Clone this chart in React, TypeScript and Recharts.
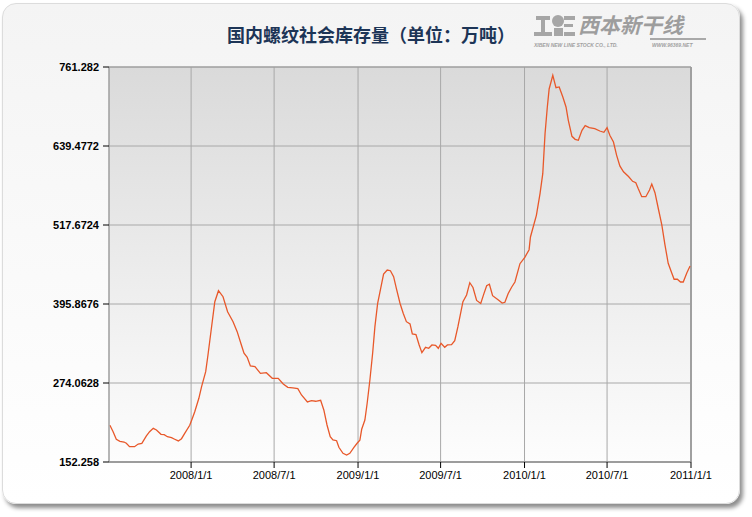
import React from 'react'
import { LineChart, Line, XAxis, YAxis, CartesianGrid, ReferenceLine } from 'recharts'

const dates = [
  '2007/7/7', '2007/7/14', '2007/7/21', '2007/7/29', '2007/8/7', '2007/8/12', '2007/8/19', '2007/8/30',
  '2007/9/7', '2007/9/15', '2007/9/25', '2007/10/2', '2007/10/10', '2007/10/17', '2007/10/27', '2007/11/3',
  '2007/11/10', '2007/11/19', '2007/11/26', '2007/12/4', '2007/12/11', '2007/12/18', '2007/12/29',
  '2008/1/3', '2008/1/9', '2008/1/18', '2008/1/24', '2008/2/2', '2008/2/7', '2008/2/14', '2008/2/22',
  '2008/3/1', '2008/3/11', '2008/3/21', '2008/4/2', '2008/4/11', '2008/4/19', '2008/4/26', '2008/5/3',
  '2008/5/10', '2008/5/20', '2008/6/1', '2008/6/14', '2008/6/27', '2008/7/10', '2008/7/21', '2008/7/31',
  '2008/8/11', '2008/8/22', '2008/8/30', '2008/9/12', '2008/9/21', '2008/9/30', '2008/10/11', '2008/10/18',
  '2008/10/25', '2008/11/1', '2008/11/7', '2008/11/15', '2008/11/20', '2008/11/29', '2008/12/7', '2008/12/14',
  '2008/12/23', '2008/12/30', '2009/1/5', '2009/1/9', '2009/1/16', '2009/1/21', '2009/1/27', '2009/2/2',
  '2009/2/7', '2009/2/13', '2009/2/19', '2009/2/26', '2009/3/6', '2009/3/13', '2009/3/20', '2009/3/26',
  '2009/4/3', '2009/4/10', '2009/4/17', '2009/4/25', '2009/4/30', '2009/5/8', '2009/5/15', '2009/5/21',
  '2009/5/29', '2009/6/5', '2009/6/12', '2009/6/20', '2009/6/26', '2009/7/2', '2009/7/10', '2009/7/16',
  '2009/7/25', '2009/8/1', '2009/8/8', '2009/8/19', '2009/8/27', '2009/9/3', '2009/9/10', '2009/9/18',
  '2009/9/27', '2009/10/4', '2009/10/10', '2009/10/16', '2009/10/23', '2009/11/4', '2009/11/13', '2009/11/19',
  '2009/11/26', '2009/12/4', '2009/12/11', '2009/12/22', '2010/1/2', '2010/1/11', '2010/1/14', '2010/1/20',
  '2010/1/27', '2010/2/4', '2010/2/10', '2010/2/15', '2010/2/20', '2010/2/24', '2010/3/4', '2010/3/11',
  '2010/3/18', '2010/3/26', '2010/4/2', '2010/4/7', '2010/4/15', '2010/4/22', '2010/4/29', '2010/5/7',
  '2010/5/14', '2010/5/23', '2010/6/4', '2010/6/15', '2010/6/24', '2010/7/1', '2010/7/7', '2010/7/15',
  '2010/7/22', '2010/7/29', '2010/8/6', '2010/8/17', '2010/8/26', '2010/9/2', '2010/9/7', '2010/9/15',
  '2010/9/24', '2010/10/2', '2010/10/7', '2010/10/14', '2010/10/22', '2010/10/29', '2010/11/5', '2010/11/12',
  '2010/11/20', '2010/11/25', '2010/12/2', '2010/12/9', '2010/12/15', '2010/12/23', '2010/12/30',
]

const stock = [
  208.8, 199.0, 187.3, 184.2, 183.1, 181.1, 175.9, 175.9,
  180.0, 181.1, 192.4, 199.0, 204.2, 201.6, 195.0, 194.4,
  191.3, 189.7, 187.3, 184.7, 188.2, 196.5, 208.8,
  218.1, 229.8, 250.5, 268.4, 291.5, 317.2, 355.8, 399.4,
  416.4, 407.1, 384.0, 368.6, 353.2, 335.3, 319.9, 313.7,
  300.3, 299.2, 289.0, 290.0, 281.3, 281.3, 272.5, 267.4,
  266.4, 265.3, 255.6, 244.8, 246.8, 245.9, 247.4, 232.5,
  209.3, 191.3, 186.2, 185.1, 174.9, 165.7, 163.1, 165.7,
  174.9, 181.1, 185.7, 202.7, 217.0, 242.8, 278.7, 319.9,
  360.9, 397.0, 417.5, 442.1, 448.3, 447.2, 438.0, 420.1,
  397.0, 381.5, 368.6, 365.1, 349.6, 348.6, 332.7, 320.8,
  329.1, 327.6, 332.7, 332.2, 327.6, 335.3, 329.1, 332.7,
  333.1, 339.3, 360.9, 399.4, 409.8, 428.7, 421.3, 401.3,
  396.6, 411.8, 424.1, 426.3, 408.7, 402.5, 397.4, 398.5,
  411.8, 422.1, 429.8, 458.0, 468.3, 479.6, 499.2, 514.6,
  532.6, 566.0, 596.8, 658.5, 699.6, 727.4, 748.5, 729.4,
  730.5, 715.0, 699.6, 679.1, 654.4, 649.8, 648.3, 663.7,
  670.8, 667.7, 666.2, 662.6, 660.6, 667.7, 656.0, 645.6,
  625.1, 608.7, 599.7, 592.4, 585.0, 582.9, 574.2, 561.3,
  561.3, 571.6, 580.9, 567.5, 540.8, 517.7, 486.8, 458.6,
  443.2, 434.0, 434.0, 429.8, 429.8, 444.1, 454.5,
]

const xTickDates = ['2008/1/1', '2008/7/1', '2009/1/1', '2009/7/1', '2010/1/1', '2010/7/1', '2011/1/1']
const yTicks = [152.258, 274.0628, 395.8676, 517.6724, 639.4772, 761.282]
const xStart = '2007/7/5'
const xEnd = '2011/1/1'

function toTs(s: string) {
  const [y, m, d] = s.split('/').map(Number)
  return Date.UTC(y, m - 1, d)
}

function formatDate(v: number) {
  const d = new Date(v)
  return `${d.getUTCFullYear()}/${d.getUTCMonth() + 1}/${d.getUTCDate()}`
}

const data = dates.map((d, i) => ({ t: toTs(d), v: stock[i] }))

const FONT = '"Liberation Sans", Arial, sans-serif'

function Logo() {
  return (
    <svg width={180} height={44} style={{ position: 'absolute', left: 532, top: 8 }}>
      <g fill="#a6a6a6">
        <rect x={4} y={8} width={14} height={4} />
        <rect x={9} y={8} width={4} height={18} />
        <rect x={2} y={24} width={18} height={4} />
        <ellipse cx={26} cy={13} rx={6} ry={6} />
        <rect x={22} y={20} width={9} height={8} />
        <rect x={32} y={8} width={11} height={4} />
        <rect x={32} y={16} width={9} height={3} />
        <rect x={32} y={24} width={11} height={4} />
      </g>
      <text
        x={46}
        y={25}
        fontFamily='"Noto Sans CJK SC", sans-serif'
        fontSize={21}
        fontWeight="bold"
        fontStyle="italic"
        fill="#9d9d9d"
      >
        西本新干线
      </text>
      <line x1={118} y1={31} x2={174} y2={31} stroke="#a9a9a9" strokeWidth={2} />
      <text x={2} y={39} fontFamily={FONT} fontSize={5} fontWeight="bold" fontStyle="italic" fill="#a0a0a0">
        XIBEN NEW LINE STOCK CO., LTD.
      </text>
      <text x={120} y={39} fontFamily={FONT} fontSize={5} fontWeight="bold" fontStyle="italic" fill="#a0a0a0">
        WWW.96369.NET
      </text>
    </svg>
  )
}

export default function App() {
  return (
    <div style={{ position: 'absolute', left: 0, top: 0, width: 752, height: 517, background: '#fff', overflow: 'hidden' }}>
      <div
        style={{
          position: 'absolute',
          left: 2,
          top: 3,
          width: 736,
          height: 499,
          borderRadius: 14,
          border: '1px solid #dcdcdc',
          background: 'linear-gradient(#f4f4f4, #ffffff)',
          boxShadow: '3px 4px 4px rgba(0,0,0,0.45)',
        }}
      />
      <div
        style={{
          position: 'absolute',
          left: 227,
          top: 22,
          fontFamily: '"Noto Sans CJK SC", sans-serif',
          fontSize: 18,
          fontWeight: 'bold',
          color: '#1d3557',
          whiteSpace: 'nowrap',
          lineHeight: '24px',
        }}
      >
        国内螺纹社会库存量（单位：万吨）
      </div>
      <Logo />
      <div style={{ position: 'absolute', left: 0, top: 0 }}>
        <LineChart width={752} height={517} data={data} margin={{ top: 67, right: 61, bottom: 0, left: 0 }}>
          <defs>
            <linearGradient id="plotBg" x1="0" y1="0" x2="0" y2="1">
              <stop offset="0%" stopColor="#dadada" />
              <stop offset="100%" stopColor="#fdfdfd" />
            </linearGradient>
          </defs>
          <CartesianGrid stroke="#a8a8a8" fill="url(#plotBg)" fillOpacity={1} />
          <XAxis
            dataKey="t"
            type="number"
            domain={[toTs(xStart), toTs(xEnd)]}
            ticks={xTickDates.map(toTs)}
            tickFormatter={formatDate}
            allowDataOverflow
            height={55}
            tickSize={6}
            tickMargin={3}
            axisLine={{ stroke: '#8a8a8a', strokeWidth: 1.5 }}
            tickLine={{ stroke: '#000' }}
            tick={{ fontSize: 11, fill: '#000', fontFamily: FONT }}
          />
          <YAxis
            type="number"
            domain={[yTicks[0], yTicks[yTicks.length - 1]]}
            ticks={yTicks}
            tickFormatter={(v: number) => String(v)}
            allowDataOverflow
            width={109}
            tickSize={6}
            tickMargin={4}
            axisLine={{ stroke: '#999' }}
            tickLine={{ stroke: '#000' }}
            tick={{ fontSize: 11, fill: '#000', fontFamily: FONT, fontWeight: 'bold' }}
          />
          <ReferenceLine x={toTs(xEnd)} stroke="#a0a0a0" strokeWidth={2} />
          <ReferenceLine y={yTicks[yTicks.length - 1]} stroke="#999" />
          <Line
            type="linear"
            dataKey="v"
            stroke="#e8582a"
            strokeWidth={1.3}
            dot={false}
            isAnimationActive={false}
          />
        </LineChart>
      </div>
    </div>
  )
}
